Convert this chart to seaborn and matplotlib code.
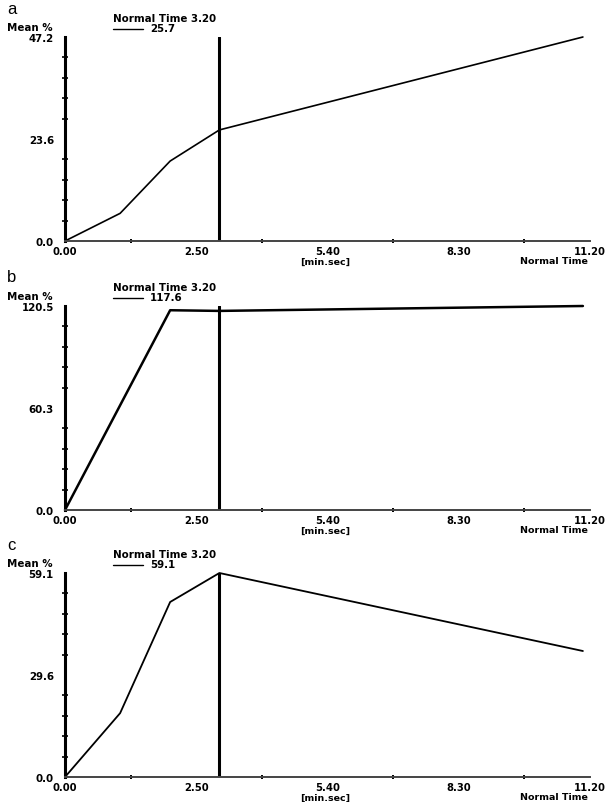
import numpy as np
import matplotlib
matplotlib.use("Agg")
import matplotlib.pyplot as plt
from matplotlib.lines import Line2D
import seaborn as sns

# data (time in minutes, Mean %)
panels = ["a", "b", "c"]
time_a = [0.0, 1.19, 2.27, 3.333, 11.18]
mean_a = [0.0, 6.4, 18.5, 25.7, 47.2]
time_b = [0.0, 2.27, 3.333, 11.18]
mean_b = [0.0, 118.0, 117.6, 120.5]
time_c = [0.0, 1.19, 2.27, 3.333, 11.18]
mean_c = [0.0, 18.5, 50.7, 59.1, 36.5]
times = [time_a, time_b, time_c]
means = [mean_a, mean_b, mean_c]
y_max = [47.2, 120.5, 59.1]
y_tick_labels = [["0.0", "23.6", "47.2"],
                 ["0.0", "60.3", "120.5"],
                 ["0.0", "29.6", "59.1"]]
marker_values = ["25.7", "117.6", "59.1"]
line_widths = [1.2, 1.8, 1.3]
normal_time = 3 + 20 / 60      # 3:20
x_end = 11 + 20 / 60           # 11:20
x_tick_labels = ["0.00", "2.50", "5.40", "8.30", "11.20"]

W, H = 611, 803
sns.set_style("white")
plt.rcParams["font.family"] = ["DejaVu Sans"]
plt.rcParams["text.color"] = "black"
plt.rcParams["xtick.labelcolor"] = "black"
plt.rcParams["ytick.labelcolor"] = "black"
fig = plt.figure(figsize=(W / 100, H / 100), dpi=100)

def fx(px):
    return px / W

def fy(py):
    return 1 - py / H

left, width, height = 65, 525, 204
tops = [38, 307, 574]
caption_gap = 20
fs = 7.4

for i, name in enumerate(panels):
    top = tops[i]
    ax = fig.add_axes([fx(left), fy(top + height), width / W, height / H])
    sns.lineplot(x=times[i], y=means[i], ax=ax, color="black",
                 lw=line_widths[i], sort=False, clip_on=False)
    ax.axvline(normal_time, color="black", lw=2.2)
    ax.set_xlim(0, x_end)
    ax.set_ylim(0, y_max[i])

    ax.set_xticks(np.linspace(0, x_end, 5))
    ax.set_xticklabels(x_tick_labels)
    ax.set_xticks(np.linspace(0, x_end, 9), minor=True)
    ax.set_yticks([0, y_max[i] / 2, y_max[i]])
    ax.set_yticklabels(y_tick_labels[i])
    ax.set_yticks(np.linspace(0, y_max[i], 11), minor=True)

    for s in ["top", "right"]:
        ax.spines[s].set_visible(False)
    ax.spines["left"].set_linewidth(2.2)
    ax.spines["left"].set_color("black")
    ax.spines["bottom"].set_linewidth(1.4)
    ax.spines["bottom"].set_color("#444444")

    ax.tick_params(axis="y", which="major", direction="inout", length=8,
                   width=1.2, pad=4, labelsize=fs, color="black")
    ax.tick_params(axis="y", which="minor", direction="inout", length=5,
                   width=1.2, color="black", left=True)
    ax.tick_params(axis="x", which="major", direction="inout", length=6,
                   width=1.4, pad=0.5, labelsize=7.2, color="black")
    ax.tick_params(axis="x", which="minor", direction="inout", length=3,
                   width=1.4, color="black", bottom=True)
    for lab in ax.get_xticklabels() + ax.get_yticklabels():
        lab.set_fontweight("bold")
    ax.set_xlabel("")
    ax.set_ylabel("")

    # header texts
    fig.text(fx(7), fy(top - 29), name, fontsize=12, ha="left", va="center",
             family=["Liberation Sans"])
    fig.text(fx(53), fy(top - 10), "Mean %", fontsize=fs, fontweight="bold",
             ha="right", va="center")
    fig.text(fx(113), fy(top - 19), "Normal Time 3.20", fontsize=fs,
             fontweight="bold", ha="left", va="center")
    fig.add_artist(Line2D([fx(113), fx(143)], [fy(top - 8), fy(top - 8)],
                          transform=fig.transFigure, color="black", lw=1.0))
    fig.text(fx(150), fy(top - 9), marker_values[i], fontsize=fs,
             fontweight="bold", ha="left", va="center")

    # axis captions under the x axis
    bottom = top + height
    fig.text(fx(300), fy(bottom + caption_gap), "[min.sec]", fontsize=6.8,
             fontweight="bold", ha="left", va="center")
    fig.text(fx(588), fy(bottom + caption_gap), "Normal Time", fontsize=6.8,
             fontweight="bold", ha="right", va="center")

fig.savefig("out.png", dpi=100)
